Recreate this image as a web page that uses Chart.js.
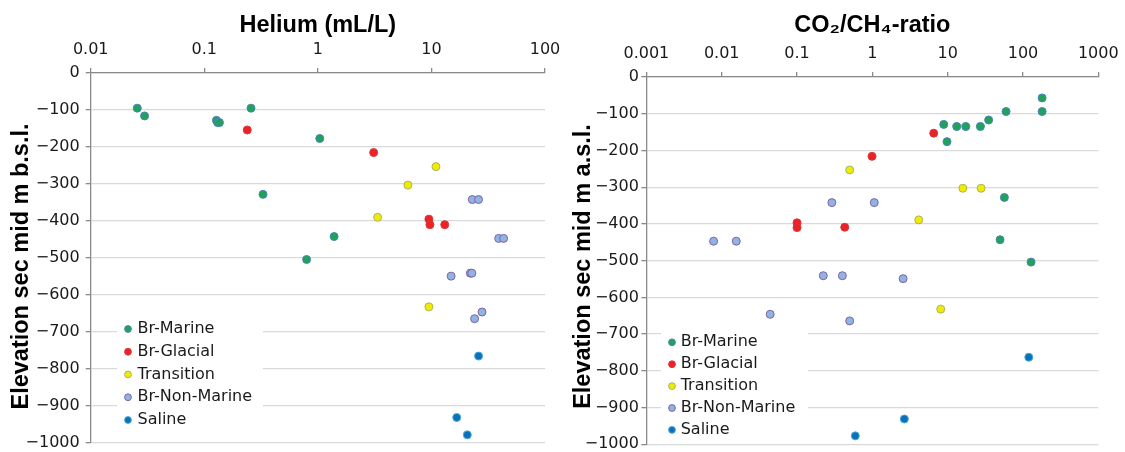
<!DOCTYPE html>
<html>
<head>
<meta charset="utf-8">
<script src="https://cdn.jsdelivr.net/npm/chart.js@4/dist/chart.umd.min.js"></script>
<style>
  html, body { margin: 0; padding: 0; background: #ffffff; }
  #wrap { position: relative; width: 1125px; height: 452px; overflow: hidden; }
  .panel { position: absolute; top: 0; height: 452px; }
</style>
</head>
<body>
<div id="wrap">
  <div class="panel" style="left:0;width:562px"><canvas id="heChart" width="562" height="452"></canvas></div>
  <div class="panel" style="left:562px;width:563px"><canvas id="coChart" width="563" height="452"></canvas></div>
</div>
<script>
// ---- groups ----
const groupNames = ['Br-Marine', 'Br-Glacial', 'Transition', 'Br-Non-Marine', 'Saline'];

// ---- helium (mL/L) vs elevation ----
const heMarineX = [0.0257, 0.0298, 0.128, 0.131, 0.136, 0.258, 0.329, 0.796, 1.04, 1.39];
const heMarineY = [-95, -116, -128, -134, -134, -95, -328, -504, -177, -442];
const heGlacialX = [0.239, 3.10, 9.5, 9.7, 13.1];
const heGlacialY = [-154, -215, -395, -410, -410];
const heTransitionX = [10.96, 6.21, 3.36, 9.5];
const heTransitionY = [-253, -303, -390, -632];
const heNonMarineX = [22.9, 26.0, 39.1, 43.2, 14.9, 22.0, 22.7, 27.9, 24.0];
const heNonMarineY = [-342, -342, -447, -447, -549, -541, -541, -646, -664];
const heSalineX = [26.0, 16.7, 20.7];
const heSalineY = [-765, -931, -978];

// ---- CO2/CH4 ratio vs elevation ----
const coMarineX = [179.5, 179.5, 59.6, 35.0, 8.87, 13.2, 17.4, 27.2, 9.8, 56.6, 49.6, 128];
const coMarineY = [-57, -94, -94, -117, -129, -135, -135, -135, -176, -328, -443, -504];
const coGlacialX = [6.53, 0.99, 0.10, 0.10, 0.43];
const coGlacialY = [-153, -216, -397, -410, -409];
const coTransitionX = [0.50, 15.9, 27.8, 4.13, 8.09];
const coTransitionY = [-253, -303, -303, -389, -632];
const coNonMarineX = [1.06, 0.29, 0.0078, 0.0156, 0.223, 0.40, 2.56, 0.044, 0.50];
const coNonMarineY = [-342, -342, -447, -447, -541, -541, -549, -646, -664];
const coSalineX = [119.4, 2.66, 0.594];
const coSalineY = [-763, -931, -977];

// ---- axis ticks ----
const heTicks = [0.01, 0.1, 1, 10, 100];
const heTickLabels = ['0.01', '0.1', '1', '10', '100'];
const coTicks = [0.001, 0.01, 0.1, 1, 10, 100, 1000];
const coTickLabels = ['0.001', '0.01', '0.1', '1', '10', '100', '1000'];
const elevTicks = [0, -100, -200, -300, -400, -500, -600, -700, -800, -900, -1000];
const elevTickLabels = ['0', '\u2212100', '\u2212200', '\u2212300', '\u2212400', '\u2212500',
  '\u2212600', '\u2212700', '\u2212800', '\u2212900', '\u22121000'];

// ---- styling ----
const fills = ['#1ea358', '#ec2227', '#f2ea05', '#8fb3e2', '#0a6fbe'];
const rings = ['#4f81bd', '#d8393a', '#a4b75a', '#8064a2', '#4bacc6'];
const tickFont = { family: "'DejaVu Sans', sans-serif", size: 16 };
const titleFont = { family: "'Liberation Sans', Arial, sans-serif", size: 23.5, weight: 'bold' };
const axisGrey = '#8a8a8a';
const gridGrey = '#d9d9d9';

Chart.defaults.font.family = tickFont.family;

// legend drawn as a white box inside the plot area
const insetLegend = {
  id: 'insetLegend',
  beforeDatasetsDraw(chart, args, o) {
    const ctx = chart.ctx;
    ctx.save();
    ctx.fillStyle = '#ffffff';
    ctx.fillRect(o.boxX, o.boxY, o.boxW, o.boxH);
    ctx.font = `${tickFont.size}px ${tickFont.family}`;
    ctx.textAlign = 'left';
    ctx.textBaseline = 'middle';
    chart.data.datasets.forEach((ds, i) => {
      const y = o.firstRow + i * o.rowStep;
      ctx.beginPath();
      ctx.arc(o.markerX, y, 3.4, 0, Math.PI * 2);
      ctx.fillStyle = ds.backgroundColor;
      ctx.fill();
      ctx.lineWidth = 1;
      ctx.strokeStyle = ds.borderColor;
      ctx.stroke();
      ctx.fillStyle = '#1a1a1a';
      ctx.fillText(ds.label, o.textX, y);
    });
    ctx.restore();
  }
};

// rotated caption for the elevation axis
const sideCaption = {
  id: 'sideCaption',
  afterDraw(chart, args, o) {
    const ctx = chart.ctx;
    ctx.save();
    ctx.translate(o.baseline, o.centerY);
    ctx.rotate(-Math.PI / 2);
    ctx.font = `${titleFont.weight} ${titleFont.size}px ${titleFont.family}`;
    ctx.fillStyle = '#000000';
    ctx.textAlign = 'center';
    ctx.textBaseline = 'alphabetic';
    ctx.fillText(o.text, 0, 0);
    ctx.restore();
  }
};

// keep the plot frame fixed: tick labels may overhang the frame edges
function clearOverhang(s) {
  s.paddingLeft = 0;
  s.paddingRight = 0;
  s.paddingTop = 0;
  s.paddingBottom = 0;
}

function pairs(xs, ys) {
  return xs.map((x, i) => ({ x: x, y: ys[i] }));
}

function buildDatasets(seriesX, seriesY) {
  return groupNames.map((name, g) => ({
    label: name,
    data: pairs(seriesX[g], seriesY[g]),
    backgroundColor: fills[g],
    borderColor: rings[g],
    borderWidth: 1,
    pointRadius: 4,
    pointHoverRadius: 4
  }));
}

function makePanel(canvasId, p) {
  return new Chart(document.getElementById(canvasId), {
    type: 'scatter',
    data: { datasets: buildDatasets(p.seriesX, p.seriesY) },
    plugins: [insetLegend, sideCaption],
    options: {
      responsive: false,
      animation: false,
      events: [],
      layout: { padding: p.padding },
      plugins: {
        legend: { display: false },
        tooltip: { enabled: false },
        insetLegend: p.legend,
        sideCaption: { text: p.yTitle, baseline: 27.5, centerY: 266.5 }
      },
      scales: {
        x: {
          type: 'logarithmic',
          position: 'top',
          min: p.ticks[0],
          max: p.ticks[p.ticks.length - 1],
          afterBuildTicks: s => { s.ticks = p.ticks.map(v => ({ value: v })); },
          afterFit: s => { s.height = p.axisTop; clearOverhang(s); },
          ticks: {
            autoSkip: false,
            maxRotation: 0,
            padding: 9,
            color: '#1a1a1a',
            font: tickFont,
            callback: v => p.tickLabels[p.ticks.indexOf(v)]
          },
          grid: { drawOnChartArea: false, tickLength: 5, color: axisGrey, lineWidth: 1.3 },
          border: { color: axisGrey, width: 1.3 },
          title: {
            display: true,
            text: p.xTitle,
            color: '#000000',
            font: titleFont,
            padding: { top: 11, bottom: 0 }
          }
        },
        y: {
          type: 'linear',
          min: -1000,
          max: 0,
          afterBuildTicks: s => { s.ticks = elevTicks.map(v => ({ value: v })); },
          afterFit: s => { s.width = p.axisLeft; clearOverhang(s); },
          ticks: {
            padding: p.yLabelGap,
            color: '#1a1a1a',
            font: tickFont,
            callback: v => elevTickLabels[elevTicks.indexOf(v)]
          },
          grid: { color: gridGrey, lineWidth: 1.3, tickLength: 5, tickColor: axisGrey },
          border: { color: axisGrey, width: 1.3 },
          title: { display: false }
        }
      }
    }
  });
}

makePanel('heChart', {
  seriesX: [heMarineX, heGlacialX, heTransitionX, heNonMarineX, heSalineX],
  seriesY: [heMarineY, heGlacialY, heTransitionY, heNonMarineY, heSalineY],
  ticks: heTicks,
  tickLabels: heTickLabels,
  xTitle: 'Helium (mL/L)',
  yTitle: 'Elevation sec mid m b.s.l.',
  axisTop: 73,
  axisLeft: 90.7,
  yLabelGap: 6,
  padding: { left: 0, right: 17, top: 0, bottom: 9 },
  legend: { boxX: 117, boxY: 317, boxW: 146, boxH: 115, markerX: 128, textX: 137.5, firstRow: 329, rowStep: 22.75 }
});

makePanel('coChart', {
  seriesX: [coMarineX, coGlacialX, coTransitionX, coNonMarineX, coSalineX],
  seriesY: [coMarineY, coGlacialY, coTransitionY, coNonMarineY, coSalineY],
  ticks: coTicks,
  tickLabels: coTickLabels,
  xTitle: 'CO\u2082/CH\u2084-ratio',
  yTitle: 'Elevation sec mid m a.s.l.',
  axisTop: 77,
  axisLeft: 84.4,
  yLabelGap: 2.5,
  padding: { left: 0, right: 26.7, top: 0, bottom: 7.7 },
  legend: { boxX: 99, boxY: 330, boxW: 147, boxH: 112, markerX: 110, textX: 118.7, firstRow: 342.3, rowStep: 21.9 }
});
</script>
</body>
</html>
